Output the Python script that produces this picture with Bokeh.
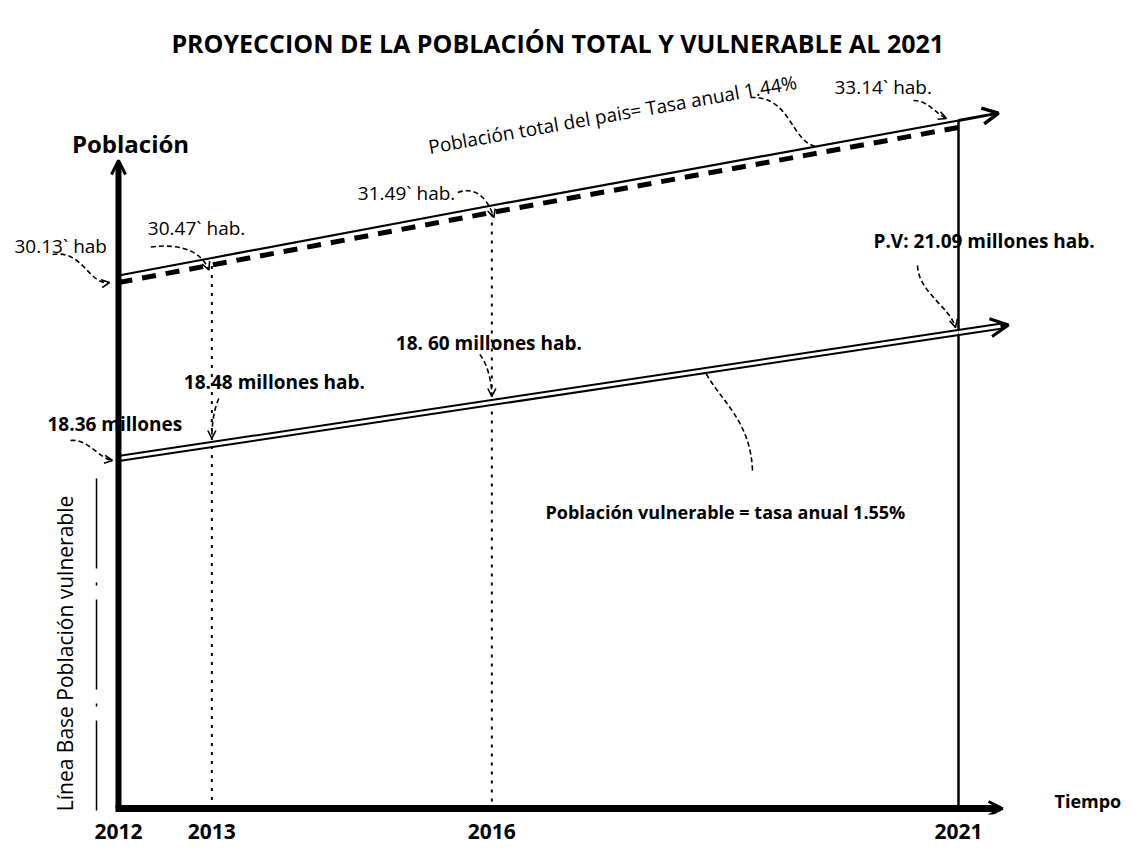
import numpy as np
from bokeh.plotting import figure
from bokeh.models import Range1d, Label, Arrow, OpenHead, FixedTicker, ColumnDataSource
from bokeh.transform import dodge
from bokeh.embed import file_html
from bokeh.resources import INLINE

# ---------------- data ----------------
years = [2012, 2013, 2016, 2021]
tick_labels = ["2012", "2013", "2016", "2021"]
total_pop = [30.13, 30.47, 31.49, 33.14]
total_labels = ["30.13` hab", "30.47` hab.", "31.49` hab.", "33.14` hab."]
vuln_pop = [18.36, 18.48, 18.60, 21.09]
vuln_labels = ["18.36 millones", "18.48 millones hab.", "18. 60 millones hab.", "P.V: 21.09 millones hab."]
vuln_trend_years = [2012, 2021]
vuln_trend = [18.36, 21.09]

title_text = "PROYECCION DE  LA POBLACIÓN TOTAL Y  VULNERABLE  AL 2021"
total_note = "Población total del pais= Tasa anual 1.44%"
vuln_note = "Población vulnerable = tasa anual 1.55%"
base_note = "Línea Base Población vulnerable"

# ---------------- layout ----------------
FW, FH = 1127, 814
KX = 93.333
X0 = 2010.7357
X1 = X0 + FW / KX
KT = 51.495
T0 = 19.663
T1 = T0 + FH / KT
KV = 46.154
V0 = 10.647
V1 = V0 + FH / KV
FONT = "Open Sans"


def X(px):
    return X0 + px / KX


def T(py):
    return T0 + (FH - py) / KT


def V(py):
    return V0 + (FH - py) / KV


def ox(d):
    return d / KX


def ot(d):
    return -d / KT


def ov(d):
    return -d / KV


p = figure(frame_width=FW, frame_height=FH, x_range=Range1d(X0, X1), y_range=Range1d(T0, T1),
           output_backend="svg", toolbar_location=None, y_axis_location=None,
           min_border_left=0, min_border_right=0, min_border_top=0, min_border_bottom=38)
p.extra_y_ranges = {"vul": Range1d(V0, V1)}
p.grid.visible = False
p.outline_line_color = None
p.background_fill_color = "white"
p.border_fill_color = "white"

ax = p.xaxis[0]
ax.ticker = FixedTicker(ticks=years)
ax.major_label_overrides = {y: t for y, t in zip(years, tick_labels)}
ax.axis_line_color = None
ax.major_tick_line_color = None
ax.minor_tick_line_color = None
ax.major_label_standoff = 3
ax.major_label_text_font = FONT
ax.major_label_text_font_style = "bold"
ax.major_label_text_font_size = "21px"
ax.major_label_text_color = "black"

AX_T = T(808)
AX_V = V(808)

# ---------------- vertical guides ----------------
p.segment(x0=years[1:3], y0=[v + ot(8) for v in total_pop[1:3]], x1=years[1:3], y1=[AX_T] * 2,
          line_color="black", line_width=2, line_dash="3 6")
p.segment(x0=[years[-1]], y0=[total_pop[-1]], x1=[years[-1]], y1=[AX_T],
          line_color="black", line_width=2.5)

# base line bracket
p.segment(x0=[years[0] + ox(-22)], y0=[vuln_trend[0] + ov(20)], x1=[years[0] + ox(-22)], y1=[AX_V + ov(10)],
          line_color="black", line_width=1.5, line_dash="90 14 3 14", y_range_name="vul")

# ---------------- total population line ----------------
src_t = ColumnDataSource(dict(year=years, pop=total_pop))
p.line(x="year", y=dodge("pop", ot(7)), source=src_t, line_color="black", line_width=5, line_dash="14 10")
p.line(x="year", y="pop", source=src_t, line_color="black", line_width=2.2)
slope_t = (total_pop[-1] - total_pop[0]) / (years[-1] - years[0])
ext = ox(40)
p.add_layout(Arrow(end=OpenHead(size=16, line_width=3.5, line_color="black"),
                   x_start=years[-1], y_start=total_pop[-1],
                   x_end=years[-1] + ext, y_end=total_pop[-1] + slope_t * ext,
                   line_width=3, line_color="black"))

# ---------------- vulnerable population line ----------------
p.line(x=vuln_trend_years, y=vuln_trend, line_color="black", line_width=7, y_range_name="vul")
p.line(x=vuln_trend_years, y=vuln_trend, line_color="white", line_width=3, y_range_name="vul")
slope_v = (vuln_trend[-1] - vuln_trend[0]) / (vuln_trend_years[-1] - vuln_trend_years[0])
ext_v = ox(50)
p.add_layout(Arrow(end=OpenHead(size=18, line_width=3, line_color="black"),
                   x_start=vuln_trend_years[-1], y_start=vuln_trend[-1],
                   x_end=vuln_trend_years[-1] + ext_v, y_end=vuln_trend[-1] + slope_v * ext_v,
                   line_width=7, line_color="black", y_range_name="vul"))
ext_w = ox(42)
p.add_layout(Arrow(end=None, x_start=vuln_trend_years[-1], y_start=vuln_trend[-1],
                   x_end=vuln_trend_years[-1] + ext_w, y_end=vuln_trend[-1] + slope_v * ext_w,
                   line_width=3, line_color="white", y_range_name="vul"))

# ---------------- axes (hand drawn arrows) ----------------
p.add_layout(Arrow(end=OpenHead(size=14, line_width=3, line_color="black"),
                   x_start=years[0], y_start=AX_T, x_end=years[0], y_end=T(160),
                   line_width=6, line_color="black"))
p.add_layout(Arrow(end=OpenHead(size=14, line_width=3, line_color="black"),
                   x_start=years[0] - ox(3), y_start=AX_T, x_end=X(1002), y_end=AX_T,
                   line_width=7, line_color="black"))


# ---------------- curly pointer arrows ----------------
def curl(ax_, ay_, pts, rng="default"):
    cv = ot if rng == "default" else ov
    xs = [ax_ + ox(q[0]) for q in pts]
    ys = [ay_ + cv(q[1]) for q in pts]
    p.bezier(x0=[xs[0]], y0=[ys[0]], cx0=[xs[1]], cy0=[ys[1]], cx1=[xs[2]], cy1=[ys[2]],
             x1=[xs[3]], y1=[ys[3]], line_color="black", line_width=1.6, line_dash="5 3",
             y_range_name=rng)
    p.add_layout(Arrow(end=OpenHead(size=8, line_width=1.6, line_color="black"),
                       x_start=xs[2], y_start=ys[2], x_end=xs[3], y_end=ys[3],
                       line_alpha=0, y_range_name=rng))


def label(x, y, text, size="16px", rng="default", align="left", style="normal", angle=0.0):
    p.add_layout(Label(x=x, y=y, text=text, text_font=FONT, text_font_size=size,
                       text_font_style=style, text_color="black", text_align=align,
                       text_baseline="middle", angle=angle, y_range_name=rng))


# total population labels (pixel offsets: right, down)
t_label_off = [(-104, -30), (-64, -30), (-134, -12), (-124, -34)]
t_curls = [
    [(-66, -21), (-35, -26), (-30, 10), (-9, 7)],
    [(-61, -11), (-30, -15), (-10, -6), (-3, 12)],
    [(-34, -13), (-14, -20), (-3, -4), (2, 12)],
    [(-45, -20), (-30, -20), (-22, -6), (-12, -2)],
]
for yr, val, txt, off, cp in zip(years, total_pop, total_labels, t_label_off, t_curls):
    label(yr + ox(off[0]), val + ot(off[1]), txt, size="19px")
    curl(yr, val, cp)

# vulnerable population labels (anchored on drawn trend line)
v_line = np.interp(years, vuln_trend_years, vuln_trend)
v_label_off = [(-71, -35), (-28, -63), (-96, -60), (-85, -92)]
v_curls = [
    [(-48, -18), (-30, -20), (-20, 0), (-6, 2)],
    [(7, -46), (2, -35), (0, -20), (0, -6)],
    [(-12, -48), (-4, -38), (0, -20), (0, -6)],
    [(-41, -67), (-40, -40), (-8, -25), (-3, -5)],
]
for yr, val, txt, off, cp in zip(years, v_line, vuln_labels, v_label_off, v_curls):
    label(yr + ox(off[0]), val + ov(off[1]), txt, size="19px", rng="vul", style="bold")
    curl(yr, val, cp, rng="vul")

# free annotations
label(X(567), T(42), title_text, size="25px", align="center", style="bold")
label(X(130), T(143), "Población", size="24px", align="center", style="bold")
label(X(1054), T(800), "Tiempo", size="18px", style="bold")
label(X(612), T(114), total_note, size="19px", align="center", angle=0.175)
label(X(545), T(511), vuln_note, size="18px", style="bold")
label(X(64), T(653), base_note, size="21px", align="center", angle=np.pi / 2)

# pointer curves for notes
for pts in [[(750, 97), (790, 95), (790, 140), (815, 146)],
            [(752, 470), (750, 420), (720, 400), (705, 372)]]:
    xs = [X(q[0]) for q in pts]
    ys = [T(q[1]) for q in pts]
    p.bezier(x0=[xs[0]], y0=[ys[0]], cx0=[xs[1]], cy0=[ys[1]], cx1=[xs[2]], cy1=[ys[2]],
             x1=[xs[3]], y1=[ys[3]], line_color="black", line_width=1.6, line_dash="5 3")

open("out.html", "w").write(file_html(p, INLINE))
